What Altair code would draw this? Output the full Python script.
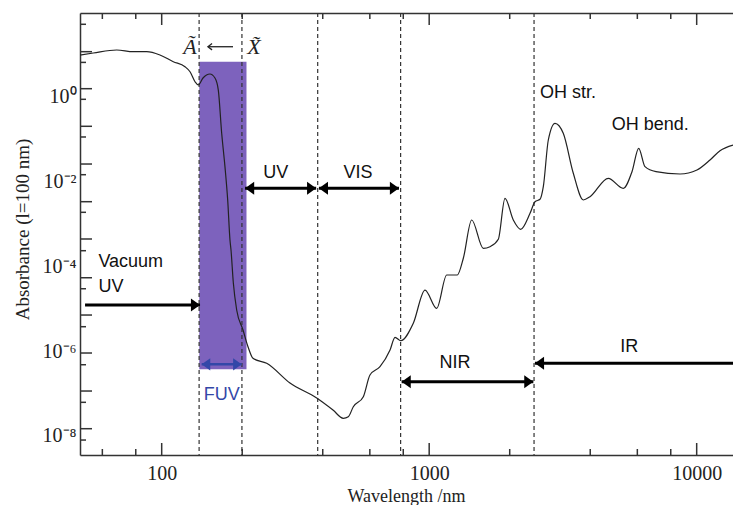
import altair as alt
import pandas as pd

# ---------------- data ----------------
wavelength_nm = [49.5, 55.5, 67.9, 78.3, 87.9, 98.5, 110.5, 122.2, 127.6, 133.2,
                 137.0, 142.7, 151.5, 158.2, 162.8, 167.6, 172.4, 176.5, 180.0, 181.6,
                 185.3, 190.7, 201.4, 210.2, 219.4, 246.9, 301.7, 379.7, 436.9, 477.5,
                 498.5, 520.4, 567.3, 600.6, 654.8, 713.9, 745.2, 782.6, 872.1, 964.5,
                 1066.8, 1162.9, 1273.6, 1341.5, 1441.9, 1593.2, 1687.8, 1813.0, 1920.6, 2062.9,
                 2198.5, 2382.4, 2486.8, 2596.2, 2670.8, 2788.3, 2953.6, 3171.5, 3457.6, 3768.6,
                 3992.0, 4673.6, 5316.8, 5730.0, 6071.0, 6409.0, 7045.0, 8664.0, 10025.0, 11214.0,
                 12222.0, 13670.0]
absorbance = [9.51, 10.59, 12.47, 11.38, 11.38, 9.51, 6.61, 5.04, 3.84, 2.23,
              1.87, 2.73, 3.39, 2.73, 1.42, 0.136, 0.0222, 3.64e-3, 4.15e-4, 2.41e-4,
              4.03e-5, 9.29e-6, 3.14e-6, 1.27e-6, 6.76e-7, 5.15e-7, 1.77e-7, 7.83e-8, 4.08e-8, 2.61e-8,
              2.84e-8, 4.89e-8, 8.41e-8, 2.73e-7, 4.29e-7, 1.06e-6, 2.11e-6, 1.76e-6, 4.52e-6, 2.75e-5,
              1.02e-5, 6.21e-5, 6.21e-5, 1.54e-4, 1.23e-3, 2.64e-4, 2.88e-4, 4.31e-4, 3.99e-3, 1.23e-3,
              7.41e-4, 1.77e-3, 3.32e-3, 3.78e-3, 7.48e-3, 0.0944, 0.233, 0.136, 0.0155, 3.64e-3,
              4.35e-3, 0.0118, 6.86e-3, 0.0169, 0.0601, 0.0222, 0.0169, 0.0149, 0.0185, 0.0318,
              0.0528, 0.0719]

# FUV band (purple box)
band_wl = [138.2, 207.5]
band_ab = [3.72e-7, 6.6]

# region boundaries (dashed lines)
boundaries_nm = [138.0, 199.5, 383.0, 782.0, 2466.0]

# black region arrows
arrow_from = [51.7, 205.0, 387.0, 789.0, 2485.0]
arrow_to = [139.1, 378.0, 771.0, 2451.0, 13670.0]
arrow_level = [1.22e-5, 6.86e-3, 6.86e-3, 1.9e-7, 5.15e-7]
arrow_head_left = [False, True, True, True, True]
arrow_head_right = [True, True, True, True, False]

# FUV arrow
fuv_from = [141.1]
fuv_to = [199.1]
fuv_level = [4.88e-7]

# electronic transition arrow (A <- X)
trans_from = [148.9]
trans_to = [184.8]
trans_level = [14.9]

# labels
left_labels = ["Vacuum", "UV", "OH str.", "OH bend."]
left_label_wl = [58.0, 58.0, 2596.0, 4812.0]
left_label_ab = [1.29e-4, 3.24e-5, 1.24, 0.213]

center_labels = ["UV", "VIS", "NIR", "IR"]
center_label_wl = [267.0, 541.8, 1249.0, 5598.0]
center_label_ab = [0.0155, 0.0155, 5.15e-7, 1.27e-6]

fuv_label = ["FUV"]
fuv_label_wl = [167.6]
fuv_label_ab = [9.48e-8]

state_labels = ["Ã", "X̃"]
state_label_wl = [127.6, 221.3]
state_label_ab = [14.3, 14.3]

# axes
x_tick_labels = [100, 1000, 10000]
x_minor_ticks = [60, 80, 200, 400, 600, 800, 2000, 4000, 6000, 8000]
y_tick_labels = [1.0, 1e-2, 1e-4, 1e-6, 1e-8]
y_tick_texts = ["10⁰", "10⁻²", "10⁻⁴", "10⁻⁶", "10⁻⁸"]
y_long_ticks = [11.38, 1.528, 0.1986, 0.02564, 3.319e-3, 4.385e-4, 5.358e-5, 7.079e-6,
                9.016e-7, 1.146e-7, 1.483e-8]
y_short_ticks = [50.35, 6.368, 0.859, 0.1112, 0.01436, 1.866e-3, 2.323e-4, 2.951e-5,
                 3.758e-6, 4.775e-7, 6.209e-8, 8.017e-9]

# ---------------- chart ----------------
W, H = 653, 442
INK = "#222222"
FRAME = "#333333"
PURPLE = "#7D62BD"
BLUE = "#3347A8"

xs = alt.Scale(type="log", domain=[49.5, 13670], nice=False)
ys = alt.Scale(type="log", domain=[3.56e-9, 92.9], nice=False)


def xq(field, axis=None):
    return alt.X(f"{field}:Q", scale=xs, axis=axis)


def yq(field, axis=None):
    return alt.Y(f"{field}:Q", scale=ys, axis=axis)


curve_df = pd.DataFrame({"wl": wavelength_nm, "ab": absorbance})
band_df = pd.DataFrame({"x1": [band_wl[0]], "x2": [band_wl[1]], "y1": [band_ab[0]], "y2": [band_ab[1]]})
bound_df = pd.DataFrame({"wl": boundaries_nm})
arrow_df = pd.DataFrame({"x1": arrow_from, "x2": arrow_to, "y": arrow_level})
fuv_df = pd.DataFrame({"x1": fuv_from, "x2": fuv_to, "y": fuv_level})
trans_df = pd.DataFrame({"x1": trans_from, "x2": trans_to, "y": trans_level})
right_heads = pd.DataFrame({"wl": [t for t, h in zip(arrow_to, arrow_head_right) if h],
                            "ab": [l for l, h in zip(arrow_level, arrow_head_right) if h]})
left_heads = pd.DataFrame({"wl": [f for f, h in zip(arrow_from, arrow_head_left) if h],
                           "ab": [l for l, h in zip(arrow_level, arrow_head_left) if h]})

# label expression: map each labelled decade to its superscript text
y_label_expr = "''"
for v, t in sorted(zip(y_tick_labels, y_tick_texts)):
    y_label_expr = f"datum.value >= {v * 0.5!r} ? '{t}' : ({y_label_expr})"

bottom_axis = alt.Axis(values=x_tick_labels, format="d", ticks=False, grid=False,
                       domainColor=FRAME, domainWidth=1.5,
                       labelFont="Liberation Serif", labelFontSize=20, labelColor=INK,
                       labelPadding=8,
                       title="Wavelength /nm", titleFont="Liberation Serif", titleFontSize=18,
                       titleFontWeight="normal", titleColor=INK, titleBaseline="alphabetic",
                       titleY=46, titleX=326)
top_axis = alt.Axis(orient="top", values=x_tick_labels, labels=False, ticks=False, grid=False,
                    domainColor=FRAME, domainWidth=1.5, title=None)
left_axis = alt.Axis(orient="left", values=y_tick_labels, labelExpr=y_label_expr, ticks=False,
                     grid=False, domainColor=FRAME, domainWidth=1.5,
                     labelFont="Liberation Serif", labelFontSize=20, labelColor=INK,
                     labelPadding=4,
                     title="Absorbance (l=100 nm)", titleFont="Liberation Serif", titleFontSize=19,
                     titleFontWeight="normal", titleColor=INK, titleBaseline="middle",
                     titleX=-58, titleY=216)

band = alt.Chart(band_df).mark_rect(color=PURPLE, opacity=1).encode(
    x=xq("x1"), x2="x2", y=yq("y1"), y2="y2")

bounds = alt.Chart(bound_df).mark_rule(color=FRAME, strokeWidth=1.2, strokeDash=[4, 3]).encode(
    x=xq("wl", top_axis))

curve = alt.Chart(curve_df).mark_line(color=INK, strokeWidth=1.2, interpolate="monotone",
                                      clip=True).encode(
    x=xq("wl", bottom_axis), y=yq("ab", left_axis))

# inward ticks
xmaj = pd.DataFrame({"v": x_tick_labels})
xmin = pd.DataFrame({"v": x_minor_ticks})
ylong = pd.DataFrame({"v": y_long_ticks})
yshort = pd.DataFrame({"v": y_short_ticks})
tick_style = dict(color=FRAME, strokeWidth=1.5)
ticks = [
    alt.Chart(xmaj).mark_rule(**tick_style).encode(x=xq("v"), y=alt.value(H), y2=alt.value(H - 12)),
    alt.Chart(xmin).mark_rule(**tick_style).encode(x=xq("v"), y=alt.value(H), y2=alt.value(H - 6)),
    alt.Chart(xmaj).mark_rule(**tick_style).encode(x=xq("v"), y=alt.value(0), y2=alt.value(12)),
    alt.Chart(xmin).mark_rule(**tick_style).encode(x=xq("v"), y=alt.value(0), y2=alt.value(6)),
    alt.Chart(ylong).mark_rule(**tick_style).encode(y=yq("v"), x=alt.value(0), x2=alt.value(12)),
    alt.Chart(yshort).mark_rule(**tick_style).encode(y=yq("v"), x=alt.value(0), x2=alt.value(6)),
]

arrows = alt.Chart(arrow_df).mark_rule(color="black", strokeWidth=3).encode(
    x=xq("x1"), x2="x2", y=yq("y"))
fuv_arrow = alt.Chart(fuv_df).mark_rule(color=BLUE, strokeWidth=2.5).encode(
    x=xq("x1"), x2="x2", y=yq("y"))
trans_arrow = alt.Chart(trans_df).mark_rule(color=INK, strokeWidth=1.3).encode(
    x=xq("x1"), x2="x2", y=yq("y"))

RIGHT = "M0,0L-1.4,-1L-1.4,1Z"
LEFT = "M0,0L1.4,-1L1.4,1Z"
OPEN_LEFT = "M1.3,-1L0,0L1.3,1"
heads_r = alt.Chart(right_heads).mark_point(shape=RIGHT, filled=True, color="black", opacity=1,
                                            size=169, strokeWidth=0).encode(x=xq("wl"), y=yq("ab"))
heads_l = alt.Chart(left_heads).mark_point(shape=LEFT, filled=True, color="black", opacity=1,
                                           size=169, strokeWidth=0).encode(x=xq("wl"), y=yq("ab"))
fuv_heads_r = alt.Chart(pd.DataFrame({"wl": fuv_to, "ab": fuv_level})).mark_point(
    shape=RIGHT, filled=True, color=BLUE, opacity=1, size=150, strokeWidth=0).encode(
    x=xq("wl"), y=yq("ab"))
fuv_heads_l = alt.Chart(pd.DataFrame({"wl": fuv_from, "ab": fuv_level})).mark_point(
    shape=LEFT, filled=True, color=BLUE, opacity=1, size=150, strokeWidth=0).encode(
    x=xq("wl"), y=yq("ab"))
trans_head = alt.Chart(pd.DataFrame({"wl": trans_from, "ab": trans_level})).mark_point(
    shape=OPEN_LEFT, filled=False, color=INK, opacity=1, size=40, strokeWidth=1.3).encode(
    x=xq("wl"), y=yq("ab"))

sans = dict(font="Liberation Sans", fontSize=18, color="#111111", baseline="middle")
txt_left = alt.Chart(pd.DataFrame({"t": left_labels, "wl": left_label_wl, "ab": left_label_ab})).mark_text(
    align="left", **sans).encode(x=xq("wl"), y=yq("ab"), text="t:N")
txt_center = alt.Chart(pd.DataFrame({"t": center_labels, "wl": center_label_wl, "ab": center_label_ab})).mark_text(
    align="center", **sans).encode(x=xq("wl"), y=yq("ab"), text="t:N")
txt_fuv = alt.Chart(pd.DataFrame({"t": fuv_label, "wl": fuv_label_wl, "ab": fuv_label_ab})).mark_text(
    align="center", font="Liberation Sans", fontSize=18, color=BLUE, baseline="middle").encode(
    x=xq("wl"), y=yq("ab"), text="t:N")
txt_state = alt.Chart(pd.DataFrame({"t": state_labels, "wl": state_label_wl, "ab": state_label_ab})).mark_text(
    align="center", font="Liberation Serif", fontStyle="italic", fontSize=22, color=INK,
    baseline="middle").encode(x=xq("wl"), y=yq("ab"), text="t:N")

chart = alt.layer(
    band, bounds, curve, *ticks, arrows, fuv_arrow, trans_arrow,
    heads_r, heads_l, fuv_heads_r, fuv_heads_l, trans_head,
    txt_left, txt_center, txt_fuv, txt_state,
).resolve_axis(x="independent", y="independent").properties(
    width=W, height=H,
    padding={"left": 72, "top": 5, "right": 0, "bottom": 50},
    autosize=alt.AutoSizeParams(type="none"),
).configure_view(stroke=None)

chart.save("out.html", embed_options={"renderer": "svg", "actions": False})
